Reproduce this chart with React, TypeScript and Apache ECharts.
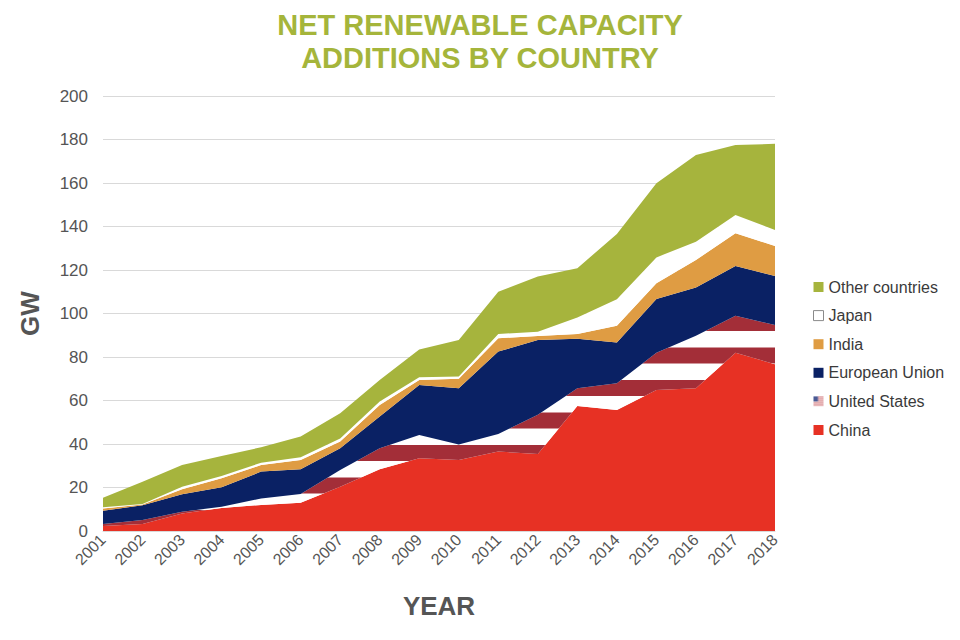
import React, { useEffect, useRef } from 'react';
import * as echarts from 'echarts';

const years = ['2001', '2002', '2003', '2004', '2005', '2006', '2007', '2008', '2009', '2010', '2011', '2012', '2013', '2014', '2015', '2016', '2017', '2018'];
const china = [2.3, 3.2, 8.1, 10.6, 12.0, 13.0, 20.4, 28.4, 33.4, 32.6, 36.5, 35.4, 57.5, 55.6, 64.8, 65.6, 82.0, 76.7];
const unitedStates = [0.9, 1.9, 0.8, 0.5, 3.0, 4.0, 7.6, 9.6, 10.7, 7.2, 8.1, 18.1, 8.1, 12.3, 17.2, 24.2, 17.0, 18.0];
const europeanUnion = [6.1, 6.7, 8.0, 9.0, 12.3, 11.4, 10.0, 14.6, 23.0, 25.8, 37.9, 34.3, 22.8, 18.8, 24.7, 22.2, 22.8, 22.5];
const india = [1.1, 0.4, 2.3, 4.1, 3.0, 4.2, 3.1, 5.3, 2.3, 4.4, 6.1, 1.9, 2.2, 7.7, 7.2, 12.6, 15.1, 13.8];
const japan = [0.5, 0.2, 1.2, 1.1, 1.1, 1.3, 1.4, 1.6, 1.3, 1.0, 2.0, 1.9, 7.6, 12.1, 11.9, 8.4, 8.4, 7.4];
const otherCountries = [4.4, 10.3, 9.9, 9.2, 7.1, 9.5, 11.6, 9.9, 12.8, 16.8, 19.4, 25.4, 22.6, 30.1, 34.1, 39.9, 32.2, 39.6];

const seriesNames = ['China', 'United States', 'European Union', 'India', 'Japan', 'Other countries'];
const legendOrder = ['Other countries', 'Japan', 'India', 'European Union', 'United States', 'China'];

const COLORS = {
  china: '#E73124',
  usRed: '#A32E38',
  eu: '#0A2164',
  india: '#DF9C43',
  japan: '#FFFFFF',
  other: '#A6B43D',
  title: '#A5B53B',
  text: '#555555',
};

function makeStripeCanvas() {
  const c = document.createElement('canvas');
  c.width = 8;
  c.height = 65;
  const ctx = c.getContext('2d')!;
  ctx.fillStyle = '#ffffff';
  ctx.fillRect(0, 0, 8, 65);
  ctx.fillStyle = COLORS.usRed;
  ctx.fillRect(0, 0, 8, 6);
  ctx.fillRect(0, 22.5, 8, 16);
  ctx.fillRect(0, 55, 8, 10);
  return c;
}

function makeFlagIcon() {
  const c = document.createElement('canvas');
  c.width = 20;
  c.height = 20;
  const ctx = c.getContext('2d')!;
  ctx.fillStyle = '#f4dada';
  ctx.fillRect(0, 0, 20, 20);
  ctx.fillStyle = '#d98a90';
  for (let i = 0; i < 5; i++) ctx.fillRect(0, i * 4, 20, 2);
  ctx.fillStyle = '#4a5a94';
  ctx.fillRect(0, 0, 9, 10);
  return c.toDataURL();
}

export default function App() {
  const ref = useRef<HTMLDivElement>(null);
  useEffect(() => {
    if (!ref.current) return;
    const chart = echarts.init(ref.current, null, { renderer: 'svg' });
    const stripe = makeStripeCanvas();
    const usPattern: any = { image: stripe, repeat: 'repeat', imageWidth: 8, imageHeight: 65 };
    const flag = makeFlagIcon();
    const data = [china, unitedStates, europeanUnion, india, japan, otherCountries];
    const colors = [COLORS.china, usPattern, COLORS.eu, COLORS.india, COLORS.japan, COLORS.other];
    const font = '"Liberation Sans", Arial, sans-serif';

    const legendData = legendOrder.map((n) => {
      if (n === 'Japan') {
        return { name: n, icon: 'rect', itemStyle: { color: '#ffffff', borderColor: '#8a8a8a', borderWidth: 1 } };
      }
      if (n === 'United States') {
        return { name: n, icon: 'image://' + flag };
      }
      return { name: n, icon: 'rect' };
    });

    chart.setOption({
      animation: false,
      backgroundColor: '#ffffff',
      title: {
        text: 'NET RENEWABLE CAPACITY\nADDITIONS BY COUNTRY',
        left: 'center',
        top: 3,
        textStyle: {
          color: COLORS.title,
          fontSize: 29,
          fontWeight: 'bold',
          lineHeight: 33,
          fontFamily: font,
        },
      },
      legend: {
        orient: 'vertical',
        left: 808,
        top: 274,
        icon: 'rect',
        itemWidth: 10,
        itemHeight: 10,
        itemGap: 12.6,
        itemTextGap: 6,
        textStyle: { color: '#3a3a3a', fontSize: 16, lineHeight: 16, fontFamily: font },
        data: legendData,
        selectedMode: false,
      },
      grid: { left: 103, top: 96, width: 672, height: 435, containLabel: false },
      xAxis: {
        type: 'category',
        data: years,
        boundaryGap: false,
        name: 'YEAR',
        nameLocation: 'middle',
        nameGap: 62,
        nameTextStyle: { color: COLORS.text, fontSize: 26, fontWeight: 'bold', fontFamily: font },
        axisLine: { show: true, lineStyle: { color: '#d9d9d9', width: 1 } },
        axisTick: { show: false },
        axisLabel: { rotate: 45, color: COLORS.text, fontSize: 16, margin: 6, fontFamily: font },
        splitLine: { show: false },
      },
      yAxis: {
        type: 'value',
        min: 0,
        max: 200,
        interval: 20,
        name: 'GW',
        nameLocation: 'middle',
        nameGap: 60,
        nameRotate: 90,
        nameTextStyle: { color: COLORS.text, fontSize: 26, fontWeight: 'bold', fontFamily: font },
        axisLine: { show: false },
        axisTick: { show: false },
        axisLabel: { color: COLORS.text, fontSize: 17, margin: 15, fontFamily: font },
        splitLine: { show: true, lineStyle: { color: '#d9d9d9', width: 1 } },
      },
      series: seriesNames.map((name, i) => ({
        name,
        type: 'line',
        stack: 'total',
        data: data[i],
        showSymbol: false,
        symbol: 'none',
        lineStyle: { width: 0, color: typeof colors[i] === 'string' ? colors[i] : COLORS.usRed },
        itemStyle: { color: colors[i] },
        areaStyle: { color: colors[i], opacity: 1 },
        emphasis: { disabled: true },
        z: 2,
      })),
    });
    return () => chart.dispose();
  }, []);
  return <div ref={ref} style={{ position: 'absolute', left: 0, top: 0, width: 960, height: 640 }} />;
}
